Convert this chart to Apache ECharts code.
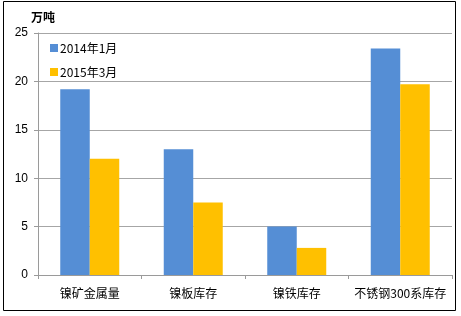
<!DOCTYPE html>
<html><head><meta charset="utf-8">
<script src="https://cdn.jsdelivr.net/npm/echarts@6/dist/echarts.min.js"></script>
<style>html,body{margin:0;padding:0;background:#fff}#c{width:461px;height:316px}</style>
</head><body><div id="c"></div>
<script>
const categories = ['镍矿金属量', '镍板库存', '镍铁库存', '不锈钢300系库存'];
const seriesNames = ['2014年1月', '2015年3月'];
const values2014 = [19.2, 13.0, 5.0, 23.4];
const values2015 = [12.0, 7.5, 2.8, 19.7];
const yTicks = [0, 5, 10, 15, 20, 25];

const font = '"Noto Sans CJK SC", "Liberation Sans", sans-serif';
const chart = echarts.init(document.getElementById('c'), null, {renderer: 'canvas'});
chart.setOption({
  animation: false,
  backgroundColor: '#fff',
  textStyle: {fontFamily: font},
  title: {
    text: '万吨', left: 26, top: 6,
    textStyle: {fontSize: 12, fontWeight: 'bold', color: '#000', fontFamily: font}
  },
  graphic: [{
    type: 'rect', shape: {x: 3.5, y: 1.5, width: 452, height: 309},
    style: {fill: 'none', stroke: '#000', lineWidth: 1}, silent: true
  }],
  legend: {
    orient: 'vertical', left: 45, top: 37, itemWidth: 8, itemHeight: 8, itemGap: 12,
    icon: 'rect',
    textStyle: {fontSize: 12, color: '#000', fontFamily: font, padding: [0, 0, 0, -3]},
    data: seriesNames
  },
  grid: {left: 38, right: 9, top: 33, bottom: 41, containLabel: false},
  xAxis: {
    type: 'category', data: categories,
    axisLine: {lineStyle: {color: '#9a9a9a'}},
    axisTick: {show: true, length: 4, lineStyle: {color: '#9a9a9a'}},
    axisLabel: {fontSize: 12, color: '#000', margin: 12, fontFamily: font, interval: 0, hideOverlap: false}
  },
  yAxis: {
    type: 'value', min: yTicks[0], max: yTicks[yTicks.length - 1], interval: 5,
    axisLine: {show: true, lineStyle: {color: '#9a9a9a'}},
    axisTick: {show: true, length: 4, lineStyle: {color: '#9a9a9a'}},
    splitLine: {lineStyle: {color: '#a6a6a6', width: 1}},
    axisLabel: {fontSize: 12, color: '#000', margin: 10, fontFamily: '"Liberation Sans", sans-serif'}
  },
  series: [
    {name: seriesNames[0], type: 'bar', data: values2014, barGap: '0%', barCategoryGap: '43%',
     itemStyle: {color: '#558ED5'}},
    {name: seriesNames[1], type: 'bar', data: values2015, barGap: '0%', barCategoryGap: '43%',
     itemStyle: {color: '#FFC000'}}
  ]
});
</script></body></html>
